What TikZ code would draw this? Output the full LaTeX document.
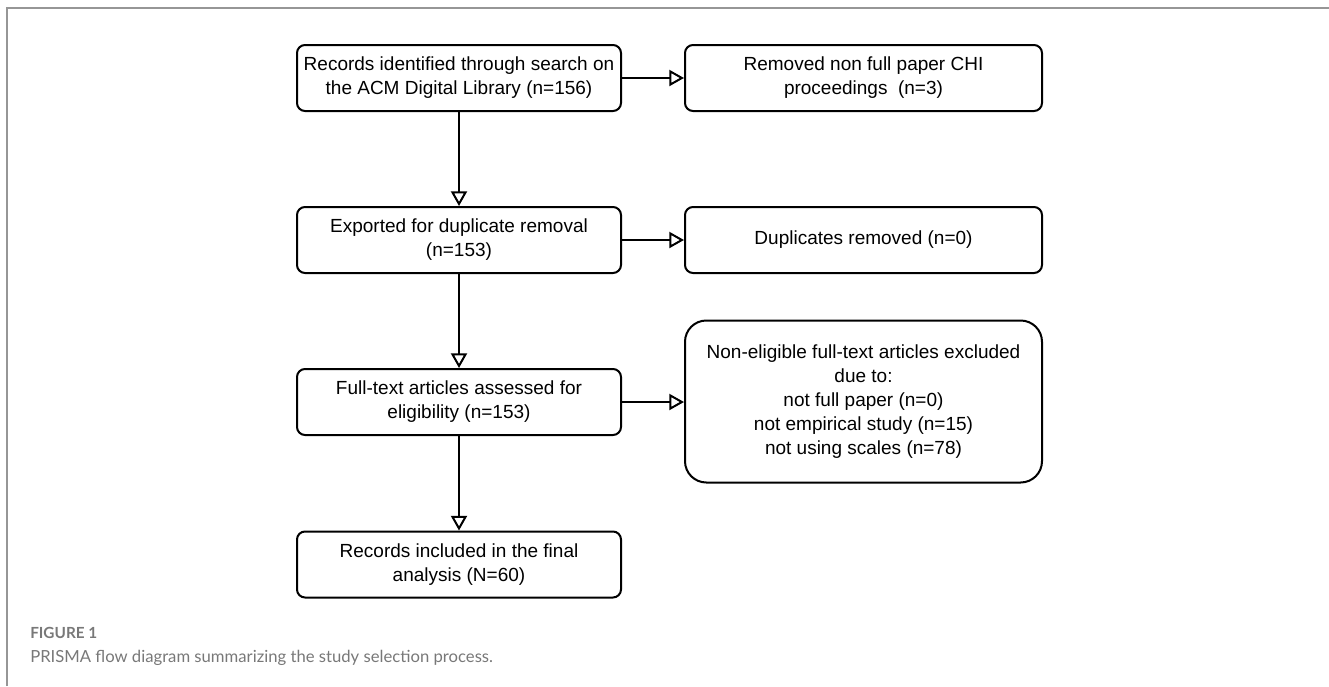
\documentclass[tikz,border=0pt]{standalone}
\usepackage{fontspec}
\setmainfont{Liberation Sans}
\newfontfamily\boxfont{Liberation Sans}
\newfontfamily\capfont{Lato}
\usetikzlibrary{arrows.meta}
\definecolor{framegray}{RGB}{150,150,150}
\definecolor{captiongray}{RGB}{120,120,120}
\tikzset{
  stagebox/.style={draw, line width=1.5pt, rounded corners=6pt, align=center,
    minimum width=243pt, minimum height=49.5pt, inner sep=2pt,
    font=\boxfont\fontsize{14.25}{18}\selectfont},
  outbox/.style={stagebox, minimum width=267.75pt},
  flowarrow/.style={line width=1.5pt, -{Triangle[open, length=11pt, width=12pt, line width=1.5pt]}}
}
\begin{document}
\begin{tikzpicture}[x=0.75pt,y=0.75pt,yscale=-1,xscale=1]
        \useasboundingbox (0,0) rectangle (1329,686);
        % frame
        \draw [framegray, line width=1.5pt] (7,686) -- (7,8) -- (1329,8) ;
        
        % Left column
        \node [stagebox] (rec) at (459,78) {Records identified through search on\\the ACM Digital Library (n=156)};
        \node [stagebox] (exp) at (459,240) {Exported for duplicate removal\\(n=153)};
        \node [stagebox] (full) at (459,402) {Full-text articles assessed for\\eligibility (n=153)};
        \node [stagebox] (incl) at (459,564.5) {Records included in the final\\analysis (N=60)};
        
        % Right column
        \node [outbox] (rem) at (863.5,78) {Removed non full paper CHI\\proceedings\ \ (n=3)};
        \node [outbox] (dup) at (863.5,240) {Duplicates removed (n=0)};
        \node [outbox, minimum height=121.5pt, rounded corners=16pt] (excl) at (863.5,401.5) {Non-eligible full-text articles excluded\\due to:\\not full paper (n=0)\\not empirical study (n=15)\\not using scales (n=78)};
        
        % Connectors
        \draw [flowarrow] (rec) -- (exp) ;
        \draw [flowarrow] (exp) -- (full) ;
        \draw [flowarrow] (full) -- (incl) ;
        \draw [flowarrow] (rec) -- (rem) ;
        \draw [flowarrow] (exp) -- (dup) ;
        \draw [flowarrow] (full.east) -- (full.east -| excl.west) ;
        
        % Caption
        \node [anchor=base west, inner sep=0pt, text=captiongray, font=\capfont\bfseries\fontsize{11.5}{13}\selectfont] (fig) at (30,638) {FIGURE 1};
        \node [anchor=base west, inner sep=0pt, text=captiongray, font=\capfont\fontsize{12.5}{15}\selectfont] (cap) at (30,662) {PRISMA flow diagram summarizing the study selection process.};
        
\end{tikzpicture}
\end{document}
